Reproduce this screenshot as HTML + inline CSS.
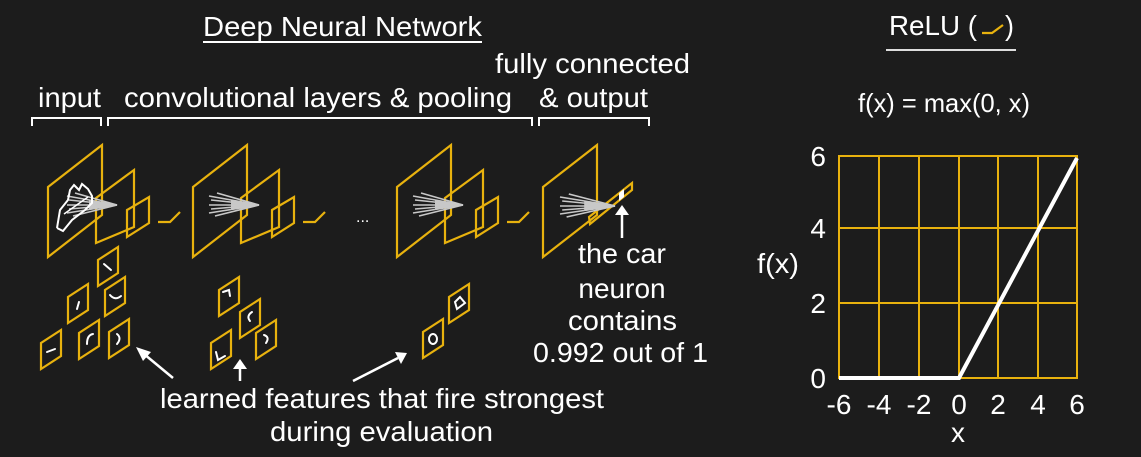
<!DOCTYPE html>
<html><head><meta charset="utf-8"><style>
html,body{margin:0;padding:0;background:#1c1c1c;}
svg{display:block;}
text{font-family:"Liberation Sans",Arial,sans-serif;fill:#fff;}
</style></head><body>
<svg width="1141" height="457" viewBox="0 0 1141 457" xmlns="http://www.w3.org/2000/svg">
<rect width="1141" height="457" fill="#1c1c1c"/>
<defs>
<g id="grp">
  <polygon points="0,0 54,-42 54,28 0,70" fill="none" stroke="#e8b20e" stroke-width="2.2"/>
  <polygon points="48,11 86,-17 86,40 48,56" fill="none" stroke="#e8b20e" stroke-width="2.2"/>
  <polygon points="79,23 101,10 101,36 79,50" fill="none" stroke="#e8b20e" stroke-width="2.2"/>
  <polyline points="110,35 122,35 132,25" fill="none" stroke="#e8b20e" stroke-width="2.2"/>
</g>
<g id="fan">
  <polygon points="22,13 50,18 22,23" fill="#c8c8c8"/>
  <g stroke="#c8c8c8" stroke-width="1.6">
    <line x1="0" y1="9" x2="50" y2="18"/><line x1="2" y1="13" x2="50" y2="18"/>
    <line x1="0" y1="18" x2="50" y2="18"/><line x1="2" y1="22" x2="50" y2="18"/>
    <line x1="0" y1="26" x2="50" y2="18"/><line x1="8" y1="6" x2="50" y2="18"/>
    <line x1="6" y1="29" x2="50" y2="18"/>
  </g>
</g>
<polygon id="tile" points="0,0 0,-26 20,-39 20,-13" fill="none" stroke="#e8b20e" stroke-width="2.2"/>
</defs>

<text x="203" y="36" font-size="28" textLength="279" lengthAdjust="spacingAndGlyphs">Deep Neural Network</text>
<line x1="203" y1="42" x2="482" y2="42" stroke="#fff" stroke-width="2"/>
<text x="495" y="73" font-size="28" textLength="195" lengthAdjust="spacingAndGlyphs">fully connected</text>
<text x="38" y="107" font-size="28" textLength="63" lengthAdjust="spacingAndGlyphs">input</text>
<text x="124" y="107" font-size="28" textLength="388" lengthAdjust="spacingAndGlyphs">convolutional layers &amp; pooling</text>
<text x="539" y="107" font-size="28" textLength="109" lengthAdjust="spacingAndGlyphs">&amp; output</text>
<g fill="none" stroke="#fff" stroke-width="2">
<polyline points="32,126 32,118 101,118 101,126"/>
<polyline points="108,126 108,118 532,118 532,126"/>
<polyline points="539,126 539,118 649,118 649,126"/>
</g>

<g transform="translate(48,187)"><use href="#grp"/></g>
<g transform="translate(193,187)"><use href="#grp"/></g>
<g transform="translate(397,187)"><use href="#grp"/></g>
<polygon points="543,187 597,145 597,215 543,257" fill="none" stroke="#e8b20e" stroke-width="2.2"/>
<polygon points="589,217 632,183 632,190 590,224" fill="none" stroke="#e8b20e" stroke-width="2.2"/>
<polygon points="619,193 624,189 624,197 619,201" fill="#fff"/>
<g transform="translate(67,187)"><use href="#fan"/></g>
<g transform="translate(209,187)"><use href="#fan"/></g>
<g transform="translate(413,187)"><use href="#fan"/></g>
<g transform="translate(560,188) scale(1.1,1)"><use href="#fan"/></g>
<text x="356" y="222" font-size="16">...</text>
<polyline points="57,228 60,210 68,200 70,190 74,185 79,190 82,184 88,189 92,196 92,203 85,210 72,220 63,231 57,228" fill="none" stroke="#fff" stroke-width="2"/>
<line x1="64" y1="214" x2="88" y2="197" stroke="#fff" stroke-width="1.5"/>

<g>
<use href="#tile" x="98" y="286"/><use href="#tile" x="68" y="323"/><use href="#tile" x="105" y="316"/>
<use href="#tile" x="41" y="369"/><use href="#tile" x="79" y="359"/><use href="#tile" x="109" y="358"/>
<use href="#tile" x="219" y="316"/><use href="#tile" x="240" y="338"/><use href="#tile" x="211" y="369"/><use href="#tile" x="256" y="359"/>
<use href="#tile" x="423" y="358"/><use href="#tile" x="449" y="323"/>
</g>
<g fill="none" stroke="#fff" stroke-width="2" stroke-linecap="round">
<line x1="104" y1="264" x2="111" y2="270"/>
<line x1="79" y1="302" x2="77" y2="309"/>
<path d="M110 295 Q115 301 121 296"/>
<line x1="47" y1="352" x2="55" y2="349"/>
<path d="M87 344 Q87 335 93 334"/>
<path d="M117 334 Q122 338 117 344"/>
<path d="M223 292 L229 290 L230 296"/>
<path d="M252 312 Q246 316 250 321"/>
<path d="M216 352 L218 360 L225 356"/>
<path d="M264 335 Q270 337 266 343"/>
<ellipse cx="433" cy="339" rx="4" ry="5"/>
<path d="M455 302 L460 297 L465 303 L457 309 Z"/>
</g>

<g stroke="#fff" stroke-width="2.5" fill="#fff">
<line x1="173" y1="378" x2="144" y2="354"/><polygon points="136,347 151,352 143,361" stroke="none"/>
<line x1="240" y1="381" x2="240" y2="368"/><polygon points="240,359 233,369 247,369" stroke="none"/>
<line x1="353" y1="381" x2="398" y2="358"/><polygon points="407,353 395,352 401,364" stroke="none"/>
<line x1="622" y1="238" x2="622" y2="214"/><polygon points="622,205 615,215 629,215" stroke="none"/>
</g>

<text x="578" y="263" font-size="28" textLength="88" lengthAdjust="spacingAndGlyphs">the car</text>
<text x="622" y="298" font-size="28" text-anchor="middle">neuron</text>
<text x="568" y="330" font-size="28" textLength="109" lengthAdjust="spacingAndGlyphs">contains</text>
<text x="533" y="362" font-size="28" textLength="175" lengthAdjust="spacingAndGlyphs">0.992 out of 1</text>
<text x="160" y="408" font-size="28" textLength="444" lengthAdjust="spacingAndGlyphs">learned features that fire strongest</text>
<text x="270" y="441" font-size="28" textLength="223" lengthAdjust="spacingAndGlyphs">during evaluation</text>

<text x="889" y="35" font-size="28" textLength="88" lengthAdjust="spacingAndGlyphs">ReLU (</text>
<polyline points="982,33 992,33 1003,25" fill="none" stroke="#e8b20e" stroke-width="2.2"/>
<text x="1005" y="35" font-size="28" textLength="9" lengthAdjust="spacingAndGlyphs">)</text>
<line x1="886" y1="50" x2="1016" y2="50" stroke="#ddd" stroke-width="2"/>
<text x="858" y="112" font-size="26" textLength="172" lengthAdjust="spacingAndGlyphs">f(x) = max(0, x)</text>

<g stroke="#e8b20e" stroke-width="2" fill="none">
<rect x="839" y="156" width="238" height="222"/>
<line x1="879" y1="156" x2="879" y2="378"/><line x1="919" y1="156" x2="919" y2="378"/>
<line x1="959" y1="156" x2="959" y2="378"/><line x1="998" y1="156" x2="998" y2="378"/>
<line x1="1038" y1="156" x2="1038" y2="378"/>
<line x1="839" y1="228" x2="1077" y2="228"/><line x1="839" y1="303" x2="1077" y2="303"/>
</g>
<polyline points="839,378 959,378 1077,158" fill="none" stroke="#fff" stroke-width="4"/>
<g font-size="28" text-anchor="end">
<text x="826" y="166">6</text><text x="826" y="238">4</text><text x="826" y="313">2</text><text x="826" y="388">0</text>
</g>
<g font-size="28" text-anchor="middle">
<text x="839" y="414">-6</text><text x="879" y="414">-4</text><text x="919" y="414">-2</text>
<text x="959" y="414">0</text><text x="998" y="414">2</text><text x="1038" y="414">4</text><text x="1077" y="414">6</text>
<text x="958" y="442">x</text>
</g>
<text x="757" y="273" font-size="28" textLength="42" lengthAdjust="spacingAndGlyphs">f(x)</text>
</svg>
</body></html>
